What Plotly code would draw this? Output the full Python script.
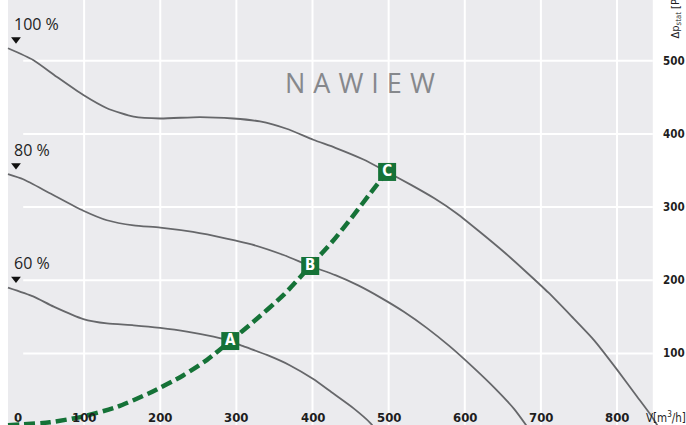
import plotly.graph_objects as go

# Fan characteristic curves: static pressure [Pa] vs. air flow [m3/h]
flow_100 = [0, 33, 64, 99, 130, 165, 200, 252, 296, 331, 366, 401, 430, 467, 498, 530, 560, 590, 620, 650, 680, 710, 740, 770, 800, 825, 845, 854]
pres_100 = [517, 501, 478, 453, 435, 423.5, 421, 423, 421, 417, 407, 392, 381, 365, 348, 330, 312, 291, 266, 240, 212, 183, 151, 118, 78, 43, 15, 0]

flow_80 = [0, 20, 55, 99, 130, 165, 200, 243, 287, 320, 362, 397, 430, 460, 490, 520, 550, 580, 610, 640, 665, 682]
pres_80 = [345, 338, 319, 295, 282, 275, 272, 266, 257, 249, 234.5, 219.5, 207, 193, 176, 157, 135, 110, 82, 52, 24, 0]

flow_60 = [0, 33, 60, 99, 130, 165, 200, 235, 270, 292, 309, 340, 370, 401, 425, 454, 476, 480]
pres_60 = [190, 178, 164, 147, 141, 138.5, 135, 130, 123, 117, 110, 98, 84, 65, 47, 25, 5, 0]

# System (duct) resistance curve
flow_sys = [0, 55, 99, 143, 186, 230, 261, 292, 322, 362, 397, 427, 454, 476, 498]
pres_sys = [2, 6, 14, 27, 46, 70, 91, 117, 143, 180, 219.5, 254, 289, 319, 348]

# Operating points
point_labels = ["A", "B", "C"]
point_flow = [292, 397, 498]
point_pres = [117, 219.5, 348]

# Speed settings
speed_labels = ["100 %", "80 %", "60 %"]
speed_start = [517, 345, 190]

# Axis ticks
x_ticks = [0, 100, 200, 300, 400, 500, 600, 700, 800]
x_tick_text = ["0", "100", "200", "300", "400", "500", "600", "700", "800"]
y_ticks = [100, 200, 300, 400, 500]
y_tick_text = ["100", "200", "300", "400", "500"]

X_RANGE = [-10.5, 890.6]
Y_RANGE = [2.3, 582.9]
PLOT_RIGHT = 847
GRID_LEFT = 20

CURVE = "#66676a"
GREEN = "#157237"
BG = "#ebebee"
NARROW = "Liberation Sans Narrow, DejaVu Sans Condensed, sans-serif"
TICK_FONT = dict(family=NARROW, size=13, color="#1e1e1e")
YTICK_FONT = dict(family=NARROW, size=11.5, color="#1e1e1e")

fig = go.Figure()

for fx, py in [(flow_100, pres_100), (flow_80, pres_80), (flow_60, pres_60)]:
    fig.add_trace(go.Scatter(x=fx, y=py, mode="lines",
                             line=dict(color=CURVE, width=1.8, shape="spline", smoothing=0.6),
                             hoverinfo="skip", showlegend=False))

fig.add_trace(go.Scatter(x=flow_sys, y=pres_sys, mode="lines",
                         line=dict(color=GREEN, width=4.5, dash="11px,5px", shape="spline", smoothing=0.6),
                         hoverinfo="skip", showlegend=False))

fig.add_trace(go.Scatter(x=point_flow, y=point_pres, mode="markers+text",
                         text=point_labels, textposition="middle center",
                         textfont=dict(family=NARROW, size=15, color="white", weight="bold"),
                         marker=dict(symbol="square", size=18, color=GREEN, line=dict(width=0)),
                         hoverinfo="skip", showlegend=False))

# Speed markers (triangles) above the start of each curve
fig.add_trace(go.Scatter(x=[10.5] * 3, y=[s + 12 for s in speed_start], mode="markers",
                         marker=dict(symbol="triangle-down", size=8.5, color="#111111", line=dict(width=0)),
                         hoverinfo="skip", showlegend=False))

shapes = [dict(type="rect", xref="x", yref="y", x0=0, x1=PLOT_RIGHT, y0=Y_RANGE[0] - 5, y1=Y_RANGE[1] + 5,
               fillcolor=BG, line=dict(width=0), layer="below")]
for v in x_ticks[1:]:
    shapes.append(dict(type="line", xref="x", yref="y", x0=v, x1=v, y0=Y_RANGE[0] - 5, y1=Y_RANGE[1] + 5,
                       line=dict(color="white", width=2), layer="below"))
for p in y_ticks:
    shapes.append(dict(type="line", xref="x", yref="y", x0=GRID_LEFT, x1=PLOT_RIGHT, y0=p, y1=p,
                       line=dict(color="white", width=2), layer="below"))

annotations = []
for v, t in zip(x_ticks, x_tick_text):
    if v == 0:
        annotations.append(dict(x=v, y=13, xref="x", yref="y", text="<b>%s</b>" % t, showarrow=False,
                                xanchor="left", xshift=4, yanchor="middle", font=TICK_FONT))
    else:
        annotations.append(dict(x=v, y=13, xref="x", yref="y", text="<b>%s</b>" % t, showarrow=False,
                                xanchor="center", yanchor="middle", font=TICK_FONT))
# Pressure tick labels sit flush against the right edge of the figure
for p, t in zip(y_ticks, y_tick_text):
    annotations.append(dict(x=1, y=p, xref="paper", yref="y", text="<b>%s</b>" % t, showarrow=False,
                            xanchor="right", yanchor="middle", borderpad=0, font=YTICK_FONT))

annotations.append(dict(x=836, y=13, xref="x", yref="y", text="V[m<sup>3</sup>/h]", showarrow=False,
                        xanchor="left", yanchor="middle",
                        font=dict(family=NARROW, size=11.5, color="#1e1e1e")))
annotations.append(dict(x=877.5, y=527, xref="x", yref="y", text="Δp<sub>stat</sub> [Pa]", showarrow=False,
                        textangle=-90, xanchor="center", yanchor="bottom",
                        font=dict(family=NARROW, size=11, color="#1e1e1e")))

for s, t in zip(speed_start, speed_labels):
    annotations.append(dict(x=5, y=s + 33, xref="x", yref="y", text=t, showarrow=False,
                            xanchor="left", yanchor="middle",
                            font=dict(family="Open Sans, sans-serif", size=16, color="#1e1e1e")))

annotations.append(dict(x=462, y=470, xref="x", yref="y",
                        text='<span style="letter-spacing:8px">NAWIEW</span>', showarrow=False,
                        xanchor="center", yanchor="middle", xshift=4,
                        font=dict(family="Open Sans, sans-serif", size=27, color="#86888c")))

fig.update_layout(
    width=686, height=425,
    margin=dict(l=0, r=0, t=0, b=0),
    paper_bgcolor="white", plot_bgcolor="white",
    xaxis=dict(range=X_RANGE, visible=False, fixedrange=True),
    yaxis=dict(range=Y_RANGE, visible=False, fixedrange=True),
    shapes=shapes, annotations=annotations,
    showlegend=False,
)

fig.write_html("out.html")
